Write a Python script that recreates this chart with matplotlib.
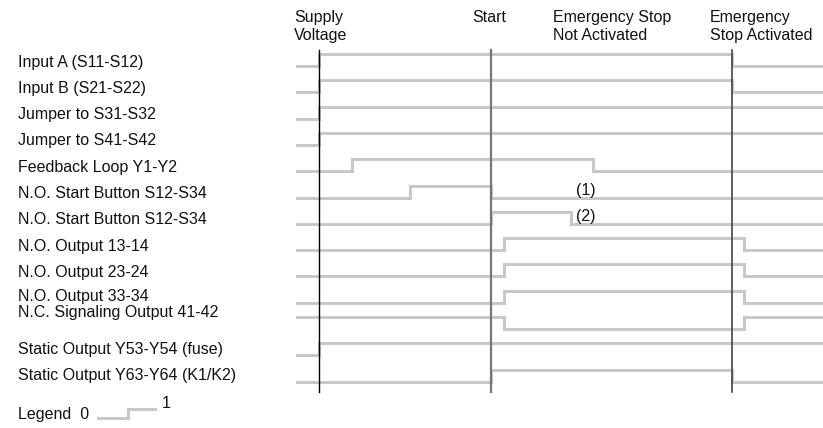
import matplotlib
matplotlib.use("Agg")
import matplotlib.pyplot as plt

# -----------------------------------------------------
# TIMING DIAGRAM DATA
# -----------------------------------------------------

row_labels = [
    "Input A (S11-S12)",
    "Input B (S21-S22)",
    "Jumper to S31-S32",
    "Jumper to S41-S42",
    "Feedback Loop Y1-Y2",
    "N.O. Start Button S12-S34",
    "N.O. Start Button S12-S34",
    "N.O. Output 13-14",
    "N.O. Output 23-24",
    "N.O. Output 33-34",
    "N.C. Signaling Output 41-42",
    "Static Output Y53-Y54 (fuse)",
    "Static Output Y63-Y64 (K1/K2)",
]

# level at the start of the trace (0 = low, 1 = high)
start_levels = [0, 0, 0, 0, 0, 0, 0, 0, 0, 0, 1, 0, 0]

# times at which each signal toggles
toggle_times = [
    [319, 732],
    [319, 732],
    [319],
    [319],
    [352, 593],
    [410, 491],
    [491, 571],
    [504, 744],
    [504, 744],
    [504, 744],
    [504, 744],
    [319],
    [491, 732],
]

t_begin = 297
t_end = 823

event_labels = ["Supply\nVoltage", "Start", "Emergency Stop\nNot Activated", "Emergency\nStop Activated"]
event_label_times = [294, 472, 553, 710]
marker_times = [319, 491, 732]

notes = ["(1)", "(2)"]
note_rows = [5, 6]
note_time = 576

# -----------------------------------------------------
# FIGURE
# -----------------------------------------------------

plt.rcParams["font.family"] = ["Liberation Sans", "DejaVu Sans"]
FS = 11.5
SIG_COLOR = "#c8c8c8"

fig = plt.figure(figsize=(8.23, 4.28), dpi=100)
ax = fig.add_axes([0, 0, 1, 1])
ax.set_xlim(0, 823)
ax.set_ylim(428, 0)
ax.axis("off")

ROW0 = 66
ROW_STEP = 26.3
AMP = 12


def row_base(i):
    return ROW0 + i * ROW_STEP


# signals
for i, (lvl, toggles) in enumerate(zip(start_levels, toggle_times)):
    xs = [t_begin]
    ys = [lvl]
    for t in toggles:
        lvl = 1 - lvl
        xs.append(t)
        ys.append(lvl)
    xs.append(t_end + 5)
    ys.append(lvl)
    base = row_base(i)
    ax.plot(xs, [base - AMP * v for v in ys], drawstyle="steps-post",
            color=SIG_COLOR, lw=2.2, solid_joinstyle="miter", zorder=2)

    y_lab = base - 4
    if i == 9:
        y_lab -= 2
    if i == 10:
        y_lab -= 12
    if i >= 11:
        y_lab -= 2
    ax.text(18, y_lab, row_labels[i], fontsize=FS, va="center", ha="left", color="#111111")

# event marker lines
marker_colors = ["#000000", "#777777", "#444444"]
marker_widths = [1.0, 1.6, 1.2]
for t, c, w in zip(marker_times, marker_colors, marker_widths):
    ax.plot([t, t], [50, 392], color=c, lw=w, zorder=3)

# header labels
for lab, t in zip(event_labels, event_label_times):
    ax.text(t, 10, lab, fontsize=FS, va="top", ha="left", color="#111111", linespacing=1.25)

# notes
for n, r in zip(notes, note_rows):
    ax.text(note_time, row_base(r) - 7, n, fontsize=FS, va="center", ha="left", color="#111111")

# legend
ax.text(18, 415, "Legend  0", fontsize=FS, va="center", ha="left", color="#111111")
ax.plot([98, 128, 128, 155], [418, 418, 409, 409], color=SIG_COLOR, lw=2.2,
        solid_joinstyle="miter")
ax.text(162, 403, "1", fontsize=FS, va="center", ha="left", color="#111111")

fig.savefig("out.png", dpi=100)
